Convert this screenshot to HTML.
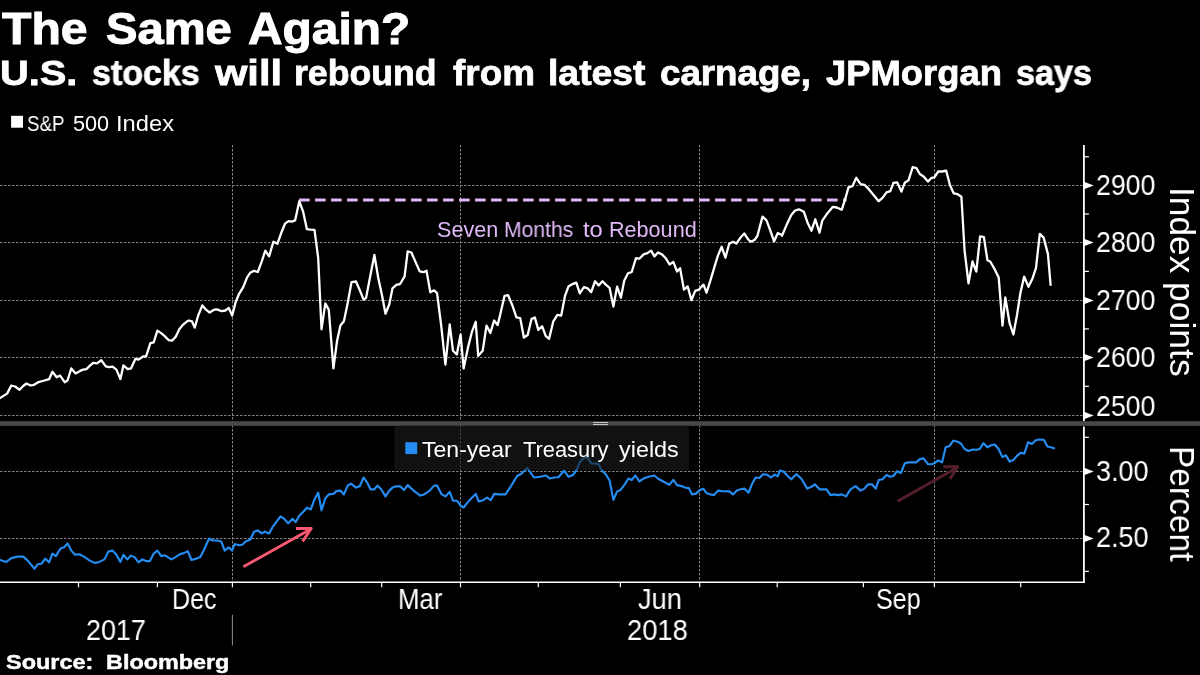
<!DOCTYPE html>
<html><head><meta charset="utf-8"><title>The Same Again?</title>
<style>
html,body{margin:0;padding:0;background:#000;overflow:hidden;}
body{width:1200px;height:675px;overflow:hidden;position:relative;font-family:"Liberation Sans",sans-serif;color:#fff;}
.t{position:absolute;white-space:nowrap;line-height:1;transform-origin:0 0;will-change:transform;}
.b{font-weight:bold;-webkit-text-stroke:0.022em #fff;}
.l{color:#e0b9f8;}
</style></head>
<body>
<svg width="1200" height="675" viewBox="0 0 1200 675" style="position:absolute;left:0;top:0">
<g stroke="#828282" stroke-width="1" stroke-dasharray="2.5 1.5" fill="none">
<line x1="0" y1="185.5" x2="1083.9" y2="185.5"/>
<line x1="0" y1="242.5" x2="1083.9" y2="242.5"/>
<line x1="0" y1="300.5" x2="1083.9" y2="300.5"/>
<line x1="0" y1="357.5" x2="1083.9" y2="357.5"/>
<line x1="0" y1="415.5" x2="1083.9" y2="415.5"/>
<line x1="0" y1="471.5" x2="1083.9" y2="471.5"/>
<line x1="0" y1="538.5" x2="1083.9" y2="538.5"/>
<line x1="232.5" y1="145" x2="232.5" y2="582.35"/>
<line x1="460.5" y1="145" x2="460.5" y2="582.35"/>
<line x1="699.5" y1="145" x2="699.5" y2="582.35"/>
<line x1="934.5" y1="145" x2="934.5" y2="582.35"/>
</g>
<rect x="0" y="421.2" width="1200" height="4.7" fill="#484848"/>
<rect x="593" y="422" width="15" height="1" fill="#c4c4c4"/><rect x="593" y="424" width="15" height="1" fill="#c4c4c4"/>
<line x1="299.1" y1="200" x2="846.5" y2="200" stroke="#e0b9f8" stroke-width="3" stroke-dasharray="10.5 5.5"/>
<polyline points="0.0,398.1 7.1,393.6 11.3,385.5 15.1,386.5 19.6,389.8 23.2,386.0 26.4,383.5 30.7,385.5 34.0,384.8 38.3,382.2 42.8,381.0 49.1,379.2 52.4,371.7 56.7,377.2 59.9,375.4 64.7,382.2 67.5,380.5 71.3,368.4 75.6,373.4 80.1,370.9 83.1,369.6 86.4,369.1 90.2,365.4 93.2,362.8 97.0,363.4 101.3,360.3 105.8,366.4 108.8,367.1 112.6,366.6 116.4,369.6 120.4,379.0 123.4,365.4 127.7,369.1 131.0,368.4 135.5,358.8 138.5,359.6 143.1,356.5 146.1,356.3 150.4,343.2 153.7,342.4 157.4,330.6 161.2,333.1 165.0,336.4 168.8,340.2 172.0,340.7 175.6,336.9 179.3,329.3 182.6,325.1 186.4,321.8 188.9,320.5 191.9,321.3 194.7,327.6 198.2,315.5 202.3,305.4 206.0,309.7 209.6,312.5 214.1,309.7 217.1,309.4 221.7,311.2 225.4,310.5 228.7,307.9 232.2,315.5 235.6,302.2 238.9,294.2 243.2,287.1 247.2,277.1 250.2,272.8 254.0,270.8 257.8,272.0 261.6,261.9 265.3,250.6 269.1,256.4 273.4,241.8 277.4,243.8 281.7,231.7 285.0,223.7 288.5,221.1 291.8,221.6 295.1,220.4 299.3,201.2 303.1,211.6 306.9,229.2 310.7,229.7 314.5,229.9 318.2,258.2 321.5,329.3 325.3,303.4 328.8,309.9 333.4,368.4 337.1,340.7 340.4,325.6 343.9,321.3 347.7,302.9 351.5,282.2 356.0,281.5 359.8,290.3 363.6,299.6 366.1,297.9 370.4,275.2 374.4,255.0 378.2,277.7 382.0,295.3 385.5,313.7 389.3,304.2 392.5,288.3 396.3,284.8 400.1,284.0 404.6,276.4 407.7,251.3 411.4,252.5 415.2,261.3 419.7,271.4 423.5,272.2 426.5,270.7 430.3,292.3 434.1,290.3 437.1,293.3 441.2,325.6 445.4,364.6 449.7,324.3 453.0,350.8 456.8,354.5 460.6,334.4 463.6,368.4 468.1,347.0 471.9,331.9 475.7,321.8 478.2,355.8 482.7,350.8 486.5,325.6 490.3,333.1 494.1,320.5 497.6,325.1 500.0,315.6 504.5,295.9 508.1,295.2 512.6,306.0 516.4,317.4 520.2,318.1 523.9,337.5 527.7,335.0 531.5,319.1 534.8,317.4 538.3,329.9 542.1,326.2 545.8,336.2 549.1,338.8 553.4,321.1 557.4,314.8 561.2,315.6 565.0,295.9 568.5,286.4 572.5,284.1 576.3,282.6 579.8,293.4 583.9,287.1 587.7,288.4 591.2,292.2 595.0,281.3 598.7,285.4 602.5,281.3 605.8,284.6 609.6,287.9 613.4,306.5 617.1,286.6 620.9,297.7 624.2,280.8 628.0,273.3 631.7,272.0 636.0,258.2 639.3,258.7 643.6,254.4 647.4,253.1 651.1,250.6 654.4,256.4 658.2,252.4 662.0,254.4 665.7,258.2 669.5,264.5 673.3,261.9 677.1,271.5 680.1,268.2 683.9,289.6 687.7,286.4 691.4,300.2 695.2,290.9 699.0,289.6 703.5,284.6 706.5,292.7 710.3,280.8 714.1,268.2 717.9,255.6 721.7,246.8 725.4,257.7 729.2,243.8 733.0,241.8 736.3,243.6 740.6,237.5 744.3,233.5 748.1,239.3 750.6,241.8 754.4,240.0 757.4,236.0 762.5,216.6 766.5,220.4 770.3,230.5 774.1,241.3 777.8,233.0 781.6,235.0 782.0,235.7 786.3,225.6 791.3,215.1 795.1,210.5 798.9,209.3 803.9,211.8 807.7,223.1 811.5,230.7 815.3,219.3 819.5,232.7 822.3,220.6 826.6,214.3 832.9,206.8 836.7,207.5 841.7,209.8 845.0,199.7 848.5,187.4 852.5,186.1 856.3,177.8 860.6,184.1 864.4,184.8 868.2,188.4 871.9,192.9 878.7,201.2 882.5,197.9 886.5,192.4 890.3,191.1 893.4,182.8 897.1,182.3 901.4,191.6 904.7,182.8 908.5,180.3 912.7,167.2 916.5,168.2 919.8,174.0 923.6,176.5 927.9,181.6 931.6,177.8 934.4,177.3 938.2,171.5 942.0,171.5 946.2,170.7 950.0,185.3 953.8,193.4 957.6,194.2 961.4,196.7 964.6,250.8 968.5,283.4 972.5,261.5 976.3,271.6 980.1,236.3 983.9,237.1 987.4,260.2 990.2,261.5 994.5,269.0 998.7,277.4 1002.5,325.7 1005.3,297.5 1009.6,323.2 1013.4,334.5 1017.1,314.4 1020.4,293.0 1024.2,276.6 1028.5,286.7 1032.7,277.9 1036.0,267.8 1039.8,233.8 1043.6,237.6 1047.9,253.9 1050.6,284.9" fill="none" stroke="#ffffff" stroke-width="2.3" stroke-linejoin="round" stroke-linecap="round"/>
<polyline points="0.0,559.9 6.3,561.9 11.3,558.1 17.6,556.6 23.2,556.6 27.7,560.6 34.5,568.7 37.8,564.2 41.6,563.7 45.3,558.6 49.1,562.4 52.4,553.6 55.9,556.1 60.5,548.5 64.2,547.3 67.5,543.5 71.3,550.6 75.1,554.8 79.3,554.3 84.4,556.9 89.4,560.4 94.5,562.9 98.2,562.4 104.5,559.4 108.3,551.6 112.6,550.6 116.4,554.8 120.4,561.9 123.4,554.8 127.2,559.4 131.0,555.6 134.8,557.4 138.5,562.4 142.3,559.4 146.1,561.1 149.9,561.1 153.7,553.6 157.4,550.6 161.2,556.1 165.0,555.3 171.3,559.4 175.1,557.4 180.1,554.1 183.9,553.1 187.7,551.1 191.4,559.9 196.5,558.6 200.3,556.9 204.0,549.8 209.1,538.5 212.8,540.5 217.1,540.5 221.2,541.5 224.7,550.6 228.7,547.3 232.2,550.6 234.6,544.0 238.9,545.3 242.2,544.8 246.4,541.0 250.2,539.7 254.0,531.7 257.8,530.4 261.6,533.4 264.8,531.7 269.1,533.4 272.9,526.6 276.7,521.3 280.5,516.3 284.2,518.8 288.0,523.4 292.5,518.8 295.6,522.1 299.3,515.8 303.1,512.0 306.9,507.7 310.7,509.5 314.5,499.4 318.2,492.6 321.5,510.3 325.3,498.2 328.8,494.4 333.4,493.9 336.4,491.1 340.4,490.6 343.9,494.4 347.7,485.6 351.0,483.6 356.0,487.6 359.8,486.3 363.6,477.5 367.4,483.0 370.6,489.3 374.4,489.3 377.4,485.6 381.2,489.3 385.5,496.4 389.3,490.6 392.5,487.6 396.3,486.3 400.1,486.3 403.9,490.1 407.7,485.1 411.4,488.6 415.2,491.9 420.3,495.6 424.0,494.4 429.1,491.1 434.1,485.6 437.1,485.6 441.7,494.4 445.4,496.4 449.7,491.9 453.0,500.7 456.8,500.7 460.6,505.7 463.6,507.5 468.1,501.9 471.9,497.7 475.7,493.9 478.7,501.4 483.2,500.2 487.0,497.7 490.8,500.2 494.1,493.9 498.3,494.4 500.0,494.4 505.5,494.4 511.3,485.6 517.1,476.0 521.4,473.7 527.2,467.9 534.0,477.5 540.3,476.8 546.1,475.5 549.6,478.5 554.2,477.5 558.4,477.3 564.2,470.5 568.5,476.8 573.0,475.0 576.3,470.5 580.1,461.6 584.4,457.4 587.7,457.9 591.2,463.4 598.2,463.7 602.5,471.2 605.8,474.2 609.6,480.5 613.4,499.9 617.1,491.4 620.4,490.1 624.2,485.1 628.5,478.5 631.7,480.0 635.5,475.5 639.3,481.3 643.6,478.5 648.6,476.8 654.4,475.5 658.2,478.8 663.7,481.8 669.3,484.8 673.3,479.8 677.1,485.1 681.4,486.1 685.1,487.6 688.9,488.1 691.9,494.4 696.0,493.6 699.7,490.1 703.5,488.8 706.5,493.1 710.3,494.4 714.1,495.1 717.9,490.6 721.7,491.1 729.2,491.4 733.0,494.4 736.8,490.6 740.6,489.3 744.3,488.6 748.6,492.6 751.9,484.3 755.7,477.5 759.4,478.0 763.2,474.2 767.0,474.7 770.8,477.5 774.6,474.7 777.8,476.2 780.0,470.5 783.8,471.7 787.6,476.0 791.3,479.3 796.4,474.2 801.4,478.8 807.2,488.6 811.5,486.8 814.8,484.3 819.5,489.3 826.6,489.3 830.4,495.1 834.2,494.4 838.4,495.1 841.7,494.4 846.0,496.4 850.5,489.3 855.6,486.1 860.6,490.6 864.4,488.6 868.2,484.3 871.9,484.3 875.7,488.6 878.7,480.0 882.5,479.3 886.5,475.0 890.3,476.8 893.4,476.0 897.1,471.2 900.9,473.0 904.7,463.4 908.5,462.4 916.0,462.4 919.8,459.1 923.6,458.4 927.9,464.2 931.6,464.2 934.9,462.9 938.2,460.4 942.0,462.4 945.7,447.3 949.5,446.0 953.3,440.7 957.1,441.5 960.9,443.5 964.6,449.0 968.4,451.1 972.7,449.5 976.5,449.8 979.7,449.0 983.5,443.2 987.3,447.3 991.1,445.3 994.9,444.5 998.6,449.0 1002.4,457.1 1005.9,455.3 1009.7,461.6 1013.5,459.9 1017.5,455.3 1020.6,452.8 1024.3,453.6 1028.1,442.2 1031.9,444.0 1035.7,440.2 1039.4,439.5 1043.7,439.7 1047.5,446.5 1050.8,447.3 1054.1,448.3" fill="none" stroke="#258cf2" stroke-width="2.15" stroke-linejoin="round" stroke-linecap="round"/>
<rect x="394.3" y="425.7" width="294.7" height="44.5" fill="#1b1b1b" fill-opacity="0.62"/>
<g fill="none" stroke="#f95872" stroke-width="2.9" stroke-linecap="butt" stroke-linejoin="round"><path d="M243.4 566.7 L310 529.6"/><path d="M296 528.5 L311.2 528.5 L302.6 541.4"/></g>
<g fill="none" stroke="#541e2b" stroke-width="2.9" stroke-linecap="butt" stroke-linejoin="round"><path d="M897.6 501.2 L956.4 467.9"/><path d="M943.3 466.8 L957.6 466.8 L950 479"/></g>
<g stroke="#ffffff" stroke-width="1.8" fill="none"><line x1="1083.9" y1="145" x2="1083.9" y2="421"/><line x1="1083.9" y1="426.4" x2="1083.9" y2="583.1"/><line x1="0" y1="582.35" x2="1084.8000000000002" y2="582.35" stroke-width="1.5"/></g>
<g stroke="#ffffff" stroke-width="1.2">
<line x1="78.5" y1="582.35" x2="78.5" y2="587.35"/>
<line x1="157.4" y1="582.35" x2="157.4" y2="587.35"/>
<line x1="232.4" y1="582.35" x2="232.4" y2="587.35"/>
<line x1="310.7" y1="582.35" x2="310.7" y2="587.35"/>
<line x1="381.7" y1="582.35" x2="381.7" y2="587.35"/>
<line x1="460.5" y1="582.35" x2="460.5" y2="587.35"/>
<line x1="538.3" y1="582.35" x2="538.3" y2="587.35"/>
<line x1="620.4" y1="582.35" x2="620.4" y2="587.35"/>
<line x1="699.7" y1="582.35" x2="699.7" y2="587.35"/>
<line x1="777.2" y1="582.35" x2="777.2" y2="587.35"/>
<line x1="863.4" y1="582.35" x2="863.4" y2="587.35"/>
<line x1="934.4" y1="582.35" x2="934.4" y2="587.35"/>
<line x1="1020.7" y1="582.35" x2="1020.7" y2="587.35"/>
<line x1="1083.9" y1="156.8" x2="1088.9" y2="156.8"/>
<line x1="1083.9" y1="214.0" x2="1088.9" y2="214.0"/>
<line x1="1083.9" y1="271.4" x2="1088.9" y2="271.4"/>
<line x1="1083.9" y1="328.9" x2="1088.9" y2="328.9"/>
<line x1="1083.9" y1="386.3" x2="1088.9" y2="386.3"/>
<line x1="1083.9" y1="437.3" x2="1088.9" y2="437.3"/>
<line x1="1083.9" y1="504.5" x2="1088.9" y2="504.5"/>
<line x1="1083.9" y1="571.4" x2="1088.9" y2="571.4"/>
</g>
<g fill="#ffffff">
<path d="M1083.9 181.7 L1093.7 185.5 L1083.9 189.3 Z"/>
<path d="M1083.9 238.7 L1093.7 242.5 L1083.9 246.3 Z"/>
<path d="M1083.9 296.7 L1093.7 300.5 L1083.9 304.3 Z"/>
<path d="M1083.9 353.7 L1093.7 357.5 L1083.9 361.3 Z"/>
<path d="M1083.9 411.7 L1093.7 415.5 L1083.9 419.3 Z"/>
<path d="M1083.9 467.7 L1093.7 471.5 L1083.9 475.3 Z"/>
<path d="M1083.9 534.7 L1093.7 538.5 L1083.9 542.3 Z"/>
</g>
<line x1="232.4" y1="614.7" x2="232.4" y2="645.5" stroke="#909090" stroke-width="1"/>
<rect x="11.1" y="115.8" width="11.9" height="11.9" fill="#ffffff"/>
<rect x="405.3" y="442.2" width="11.9" height="11.9" fill="#258cf2"/>
</svg>
<div class="t b" id="ti0" style="left:1.70px;top:7.30px;font-size:44.3px;transform:scaleX(1.0872);">The</div>
<div class="t b" id="ti1" style="left:106.44px;top:7.30px;font-size:44.3px;transform:scaleX(1.0647);">Same</div>
<div class="t b" id="ti2" style="left:248.12px;top:7.30px;font-size:44.3px;transform:scaleX(1.0803);">Again?</div>
<div class="t b" id="su0" style="left:0.20px;top:55.61px;font-size:34.6px;transform:scaleX(1.1508);">U.S.</div>
<div class="t b" id="su1" style="left:92.02px;top:55.61px;font-size:34.6px;transform:scaleX(0.9843);">stocks</div>
<div class="t b" id="su2" style="left:214.50px;top:55.61px;font-size:34.6px;transform:scaleX(1.2037);">will</div>
<div class="t b" id="su3" style="left:294.24px;top:55.61px;font-size:34.6px;transform:scaleX(1.0311);">rebound</div>
<div class="t b" id="su4" style="left:452.50px;top:55.61px;font-size:34.6px;transform:scaleX(1.0667);">from</div>
<div class="t b" id="su5" style="left:547.84px;top:55.61px;font-size:34.6px;transform:scaleX(1.0795);">latest</div>
<div class="t b" id="su6" style="left:660.24px;top:55.61px;font-size:34.6px;transform:scaleX(1.0612);">carnage,</div>
<div class="t b" id="su7" style="left:826.30px;top:55.61px;font-size:34.6px;transform:scaleX(1.0527);">JPMorgan</div>
<div class="t b" id="su8" style="left:1016.01px;top:55.61px;font-size:34.6px;transform:scaleX(0.9867);">says</div>
<div class="t" id="la0" style="left:26.83px;top:112.92px;font-size:21.6px;transform:scaleX(0.8683);">S&amp;P</div>
<div class="t" id="la1" style="left:72.60px;top:112.92px;font-size:21.6px;transform:scaleX(1.0029);">500</div>
<div class="t" id="la2" style="left:115.80px;top:112.92px;font-size:21.6px;transform:scaleX(1.0980);">Index</div>
<div class="t l" id="an0" style="left:436.70px;top:219.42px;font-size:21.6px;transform:scaleX(0.9966);">Seven</div>
<div class="t l" id="an1" style="left:503.84px;top:219.42px;font-size:21.6px;transform:scaleX(0.9779);">Months</div>
<div class="t l" id="an2" style="left:582.80px;top:219.42px;font-size:21.6px;transform:scaleX(1.1000);">to</div>
<div class="t l" id="an3" style="left:608.81px;top:219.42px;font-size:21.6px;transform:scaleX(0.9952);">Rebound</div>
<div class="t" id="lb0" style="left:422.40px;top:439.05px;font-size:21.8px;transform:scaleX(1.0576);">Ten-year</div>
<div class="t" id="lb1" style="left:523.00px;top:439.05px;font-size:21.8px;transform:scaleX(1.0024);">Treasury</div>
<div class="t" id="lb2" style="left:619.20px;top:439.05px;font-size:21.8px;transform:scaleX(1.0727);">yields</div>
<div class="t b" id="sr0" style="left:6.20px;top:652.29px;font-size:20.8px;transform:scaleX(1.1289);">Source:</div>
<div class="t b" id="sr1" style="left:105.68px;top:652.29px;font-size:20.8px;transform:scaleX(1.1241);">Bloomberg</div>
<div class="t" id="y2900" style="left:1095.77px;top:171.19px;font-size:28.6px;transform:scaleX(0.9323);">2900</div>
<div class="t" id="y2800" style="left:1095.77px;top:228.29px;font-size:28.6px;transform:scaleX(0.9323);">2800</div>
<div class="t" id="y2700" style="left:1095.77px;top:285.69px;font-size:28.6px;transform:scaleX(0.9323);">2700</div>
<div class="t" id="y2600" style="left:1095.77px;top:343.09px;font-size:28.6px;transform:scaleX(0.9323);">2600</div>
<div class="t" id="y2500" style="left:1095.77px;top:391.99px;font-size:28.6px;transform:scaleX(0.9323);">2500</div>
<div class="t" id="y300" style="left:1095.86px;top:457.09px;font-size:28.6px;transform:scaleX(0.9444);">3.00</div>
<div class="t" id="y250" style="left:1095.86px;top:523.19px;font-size:28.6px;transform:scaleX(0.9444);">2.50</div>
<div class="t" id="dec" style="left:171.75px;top:585.39px;font-size:28.6px;transform:scaleX(0.8750);">Dec</div>
<div class="t" id="mar" style="left:397.70px;top:585.39px;font-size:28.6px;transform:scaleX(0.9021);">Mar</div>
<div class="t" id="jun" style="left:637.65px;top:585.39px;font-size:28.6px;transform:scaleX(0.9512);">Jun</div>
<div class="t" id="sep" style="left:876.22px;top:585.39px;font-size:28.6px;transform:scaleX(0.8776);">Sep</div>
<div class="t" id="y17" style="left:86.16px;top:615.99px;font-size:28.6px;transform:scaleX(0.9410);">2017</div>
<div class="t" id="y18" style="left:627.04px;top:615.99px;font-size:28.6px;transform:scaleX(0.9557);">2018</div>
<div class="t" id="ip0" style="left:1199.93px;top:186.97px;font-size:35px;transform:rotate(90deg) scaleX(1.0085);">Index</div>
<div class="t" id="ip1" style="left:1199.93px;top:282.17px;font-size:35px;transform:rotate(90deg) scaleX(1.0133);">points</div>
<div class="t" id="pc" style="left:1199.93px;top:446.33px;font-size:35px;transform:rotate(90deg) scaleX(0.9568);">Percent</div>
</body></html>
